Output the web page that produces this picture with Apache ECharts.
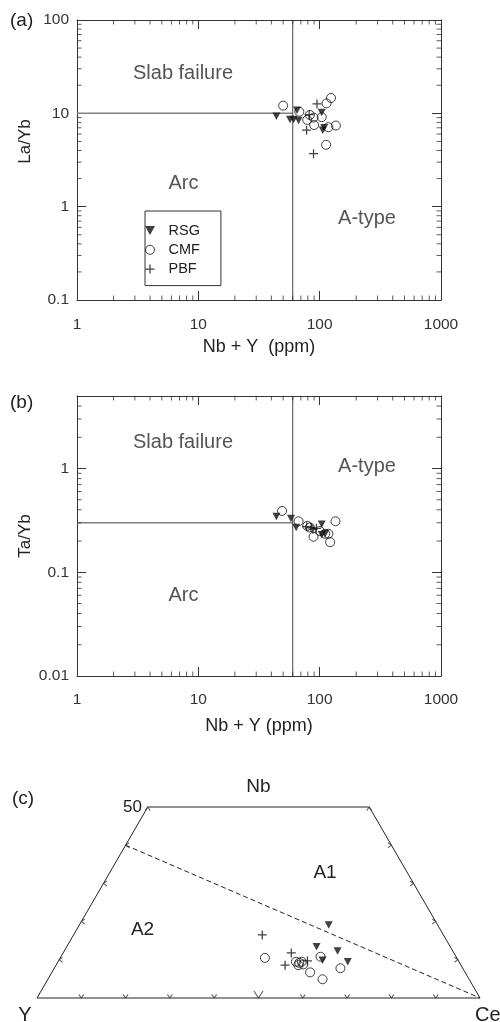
<!DOCTYPE html>
<html><head><meta charset="utf-8">
<script src="https://cdn.jsdelivr.net/npm/echarts@6/dist/echarts.min.js"></script>
<style>html,body{margin:0;padding:0;background:#fff}#c{width:500px;height:1022px}</style>
</head><body><div id="c"></div>
<script>
// ---------- axis ranges / boundaries ----------
const xMin = 1, xMax = 1000;
const yMinA = 0.1, yMaxA = 100;
const yMinB = 0.01, yMaxB = 5;
const xDivider = 60, yDividerA = 10, yDividerB = 0.3;

// ---------- panel (a): Nb+Y vs La/Yb ----------
const rsgA = [[44,9.3],[57,8.6],[61,8.6],[65,10.8],[67,8.4],[104,10.2],[106,6.6],[109,7.0]];
const cmfA = [[50,12.1],[68,10.4],[79,8.5],[83,9.6],[89,9.0],[90,7.5],[104,9.1],[114,12.8],[124,14.6],[118,7.1],[136,7.4],[113,4.6]];
const pbfA = [[95,12.6],[82,9.7],[78,6.6],[89,3.7]];

// ---------- panel (b): Nb+Y vs Ta/Yb ----------
const rsgB = [[44,0.345],[58,0.33],[64,0.27],[104,0.29],[104,0.23],[111,0.235]];
const cmfB = [[49,0.39],[67,0.31],[79,0.28],[83,0.27],[89,0.22],[111,0.235],[118,0.235],[122,0.195],[135,0.31],[100,0.25]];
const pbfB = [[78,0.275],[85,0.27],[94,0.265],[88,0.26]];

// ---------- panel (c): ternary [Nb, Y, Ce] (%) ----------
const rsgC = [[19.1,24.6,56.3],[13.4,30.2,56.4],[9.9,30.6,59.5],[12.3,26.0,61.7],[9.5,25.1,65.4]];
const cmfC = [[10.5,43.3,46.2],[9.5,36.8,53.7],[9.2,36.2,54.6],[9.5,35.5,55.0],[8.6,36.7,54.7],[8.8,35.5,55.7],[6.7,35.0,58.3],[10.8,30.6,58.6],[4.9,33.1,62.0],[7.8,27.6,64.6]];
const pbfC = [[16.5,40.9,42.6],[11.8,36.7,51.5],[8.6,39.7,51.7],[9.7,34.1,56.2]];
const ternOutline = [[0,100,0],[50,50,0],[50,0,50],[0,0,100],[0,100,0]];
const ternDivider = [[40,60,0],[0,0,100]];

// ---------- tick values ----------
const xMinorTicks = [2,3,4,5,6,7,8,9,20,30,40,50,60,70,80,90,200,300,400,500,600,700,800,900];
const yMinorTicksA = [0.2,0.3,0.4,0.5,0.6,0.7,0.8,0.9,2,3,4,5,6,7,8,9,20,30,40,50,60,70,80,90];
const yMinorTicksB = [0.02,0.03,0.04,0.05,0.06,0.07,0.08,0.09,0.2,0.3,0.4,0.5,0.6,0.7,0.8,0.9,2,3,4];
const ternBottomTicks = [10,20,30,40,60,70,80,90]; // Ce %
const ternBigTicks = [50];                         // Ce %
const ternSideTicks = [10,20,30,40];               // Nb %
const ternTopTicks = [50];                         // Nb %

// ---------- helpers ----------
function toXY(t){ const s = t[0]+t[1]+t[2]; return [(t[2] + t[0]/2)/s*100, t[0]/s*100]; }
const FONT = 'Liberation Sans, Arial, Helvetica, sans-serif';
const INK = '#222', FRAME = '#333';
const triSym = 'path://M0,0L10,0L5,9Z';
const plusSym = 'path://M4.3,0H5.7V4.3H10V5.7H5.7V10H4.3V5.7H0V4.3H4.3Z';
const fmt = v => String(+Number(v).toPrecision(6));

function logAxis(grid, pos, min, max, labels, margin){
  return {
    type:'log', logBase:10, gridIndex:grid, position:pos, min:min, max:max,
    axisLine:{show:true, onZero:false, lineStyle:{color:FRAME, width:1}},
    axisTick:{show:true, inside:true, length:9, lineStyle:{color:FRAME, width:1}},
    axisLabel:{show:labels, margin:margin, fontSize:15.5, color:'#333', fontFamily:FONT, formatter:fmt, showMaxLabel: !(max===5)},
    splitLine:{show:false}, minorTick:{show:false}
  };
}
function ticks(xi, yi, data, size, offset){
  return {type:'scatter', xAxisIndex:xi, yAxisIndex:yi, data:data, symbol:'rect',
    symbolSize:size, symbolOffset:offset, itemStyle:{color:FRAME}, silent:true, clip:false, z:5};
}
function chev(data, sym, size, offset){
  return {type:'scatter', xAxisIndex:4, yAxisIndex:4, data:data, symbol:sym, symbolSize:size, symbolOffset:offset,
    itemStyle:{color:'rgba(0,0,0,0)', borderColor:FRAME, borderWidth:0.9}, silent:true, clip:false, z:5};
}
function markers(name, xi, yi, data){
  const base = {name:name, type:'scatter', xAxisIndex:xi, yAxisIndex:yi, data:data, clip:false, z:10};
  if (name==='RSG') return Object.assign(base,{symbol:triSym, symbolSize:[8,7.5], itemStyle:{color:'#111'}});
  if (name==='CMF') return Object.assign(base,{symbol:'circle', symbolSize:9, itemStyle:{color:'rgba(0,0,0,0)', borderColor:'#111', borderWidth:1}});
  return Object.assign(base,{symbol:plusSym, symbolSize:9, itemStyle:{color:'#111'}});
}
function seg(xi, yi, data, color, width, type){
  return {type:'line', xAxisIndex:xi, yAxisIndex:yi, data:data, symbol:'none', silent:true, clip:false, z:3,
    lineStyle:{color:color, width:width, type:type||'solid'}};
}
function txt(t, x, y, size, color, align, rot){
  return {type:'text', x:x, y:y, rotation:rot||0, silent:true,
    style:{text:t, x:0, y:0, fill:color, font:size+'px '+FONT, fontSize:size, fontFamily:FONT,
      align:align||'center', verticalAlign:'middle', textAlign:align||'center', textVerticalAlign:'middle'}};
}

const option = {
  animation:false,
  backgroundColor:'#fff',
  grid:[
    {left:77, top:20, width:364, height:280},
    {left:77, top:396, width:364, height:280},
    {left:37, top:807, width:443, height:191}
  ],
  xAxis:[
    logAxis(0,'bottom',xMin,xMax,true,17),
    logAxis(0,'top',xMin,xMax,false,8),
    logAxis(1,'bottom',xMin,xMax,true,16),
    logAxis(1,'top',xMin,xMax,false,8),
    {type:'value', gridIndex:2, min:0, max:100, show:false}
  ],
  yAxis:[
    logAxis(0,'left',yMinA,yMaxA,true,8),
    logAxis(0,'right',yMinA,yMaxA,false,8),
    logAxis(1,'left',yMinB,yMaxB,true,8),
    logAxis(1,'right',yMinB,yMaxB,false,8),
    {type:'value', gridIndex:2, min:0, max:50, show:false}
  ],
  legend:{
    data:['RSG','CMF','PBF'], orient:'vertical', left:145, top:211,
    padding:[12,21,9,0], itemWidth:21, itemHeight:9, itemGap:4.3,
    borderColor:FRAME, borderWidth:1, backgroundColor:'#fff',
    itemStyle:{borderWidth:1},
    textStyle:{fontSize:14.5, color:INK, fontFamily:FONT, lineHeight:14, padding:[0,0,0,3]},
    selectedMode:false
  },
  series:[
    // panel (a)
    seg(0,0,[[xMin,yDividerA],[xDivider,yDividerA]],'#808080',1.5),
    seg(0,0,[[xDivider,yMinA],[xDivider,yMaxA]],'#444',1),
    ticks(0,0,xMinorTicks.map(v=>[v,yMinA]),[1,4.5],[0,-2.25]),
    ticks(0,0,xMinorTicks.map(v=>[v,yMaxA]),[1,4.5],[0,2.25]),
    ticks(0,0,yMinorTicksA.map(v=>[xMin,v]),[4.5,1],[2.25,0]),
    ticks(0,0,yMinorTicksA.map(v=>[xMax,v]),[4.5,1],[-2.25,0]),
    markers('RSG',0,0,rsgA), markers('CMF',0,0,cmfA), markers('PBF',0,0,pbfA),
    // panel (b)
    seg(2,2,[[xMin,yDividerB],[xDivider,yDividerB]],'#808080',1.5),
    seg(2,2,[[xDivider,yMinB],[xDivider,yMaxB]],'#444',1),
    ticks(2,2,xMinorTicks.map(v=>[v,yMinB]),[1,4.5],[0,-2.25]),
    ticks(2,2,xMinorTicks.map(v=>[v,yMaxB]),[1,4.5],[0,2.25]),
    ticks(2,2,yMinorTicksB.map(v=>[xMin,v]),[4.5,1],[2.25,0]),
    ticks(2,2,yMinorTicksB.map(v=>[xMax,v]),[4.5,1],[-2.25,0]),
    markers('RSG',2,2,rsgB), markers('CMF',2,2,cmfB), markers('PBF',2,2,pbfB),
    // panel (c)
    seg(4,4,ternOutline.map(toXY),INK,1),
    seg(4,4,ternDivider.map(toXY),INK,1,[5,3]),
    chev(ternBottomTicks.map(c=>toXY([0,100-c,c])),'path://M0,0L3,4L6,0',[5,3.5],[0,-1.75]),
    chev(ternBigTicks.map(c=>toXY([0,100-c,c])),'path://M0,0L3,4L6,0',[9,7],[0,-3.5]),
    chev(ternSideTicks.map(n=>toXY([n,100-n,0])),'path://M5,0L0,3L5,6',[3.5,5],[1.75,0]),
    chev(ternSideTicks.map(n=>toXY([n,0,100-n])),'path://M0,0L5,3L0,6',[3.5,5],[-1.75,0]),
    chev(ternTopTicks.map(n=>toXY([n,100-n,0])),'path://M0,4L3,0L6,4',[5,3.5],[0,1.75]),
    chev(ternTopTicks.map(n=>toXY([n,0,100-n])),'path://M0,4L3,0L6,4',[5,3.5],[0,1.75]),
    markers('RSG',4,4,rsgC.map(toXY)), markers('CMF',4,4,cmfC.map(toXY)), markers('PBF',4,4,pbfC.map(toXY))
  ],
  graphic:{elements:[
    txt('(a)',10,21,19,INK,'left'),
    txt('Slab failure',183,73.5,20,'#555'),
    txt('Arc',183.5,183.5,20,'#555'),
    txt('A-type',367,218,20,'#555'),
    txt('La/Yb',25.5,141.5,17,INK,'center',Math.PI/2),
    txt('Nb + Y  (ppm)',259,347,18,INK),
    txt('(b)',10,403,19,INK,'left'),
    txt('Slab failure',183,442.5,20,'#555'),
    txt('A-type',367,466,20,'#555'),
    txt('Arc',183.5,595,20,'#555'),
    txt('Ta/Yb',25.5,536,17,INK,'center',Math.PI/2),
    txt('Nb + Y (ppm)',259,726,18,INK),
    txt('(c)',12,799,19,INK,'left'),
    txt('Nb',258.5,787,19,INK),
    txt('50',142,807.5,17,INK,'right'),
    txt('A1',325,873,19,INK),
    txt('A2',142.5,930,19,INK),
    txt('Y',25,1015,20,INK),
    txt('Ce',475,1015,20,INK,'left')
  ]}
};
const chart = echarts.init(document.getElementById('c'), null, {renderer:'canvas'});
chart.setOption(option);
</script>
</body></html>
